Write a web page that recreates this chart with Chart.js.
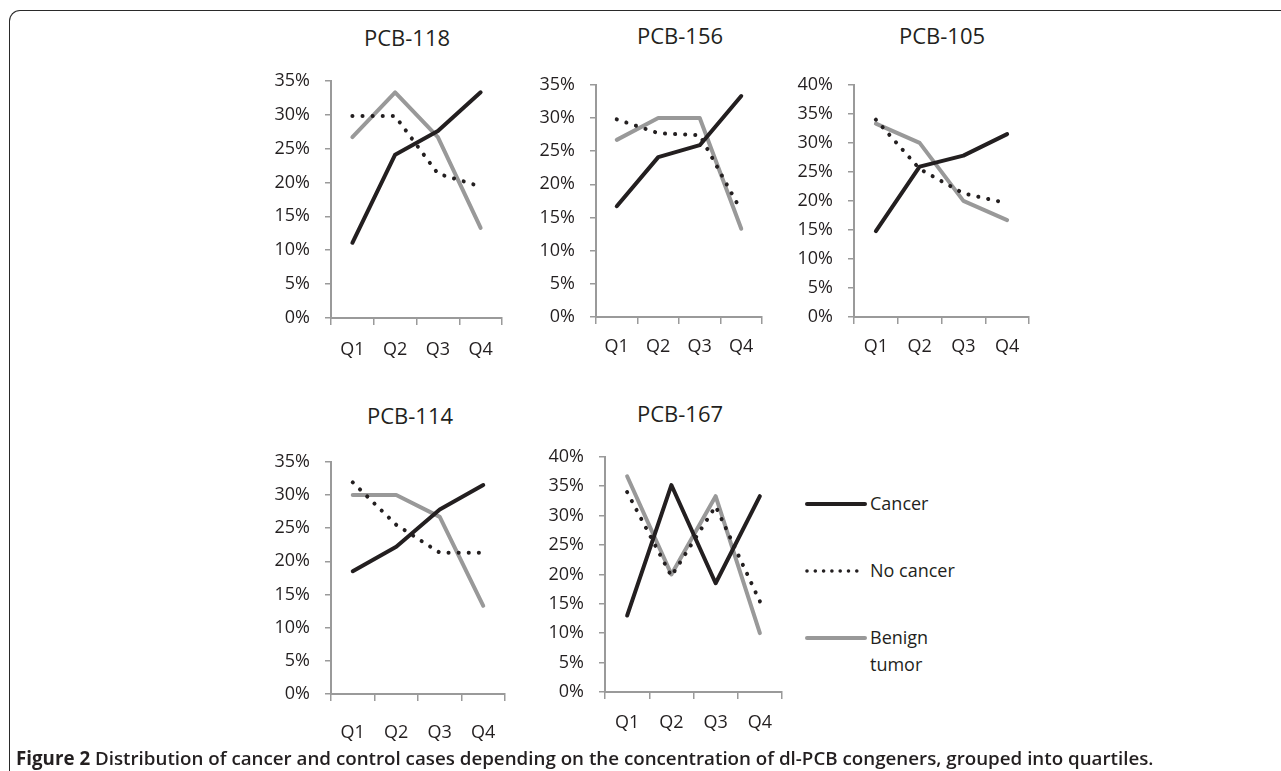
<!DOCTYPE html>
<html>
<head>
<meta charset="utf-8">
<script src="https://cdn.jsdelivr.net/npm/chart.js@4.4.1/dist/chart.umd.min.js"></script>
<style>
  html, body { margin: 0; padding: 0; background: #fff; }
  body { width: 1281px; height: 771px; position: relative; overflow: hidden; font-family: "Open Sans", sans-serif; color: #231f20; }
  #frame { position: absolute; left: 9px; top: 10px; width: 1400px; height: 900px; border-left: 1.5px solid #2a2a2a; border-top: 1.5px solid #2a2a2a; border-top-left-radius: 11px; }
  .cv { position: absolute; }
  .title { position: absolute; font-size: 22px; transform: translate(-50%, -50%); white-space: nowrap; }
  .leg { position: absolute; font-size: 18px; line-height: 27px; }
  .legline { position: absolute; }
  #caption { position: absolute; left: 16px; top: 757px; transform: translateY(-50%); white-space: nowrap; font-size: 19px; font-weight: 600; }
  #caption b { font-weight: 700; }
</style>
</head>
<body>
<div id="frame"></div>

<div class="title" style="left:407px; top:37px;">PCB-118</div>
<div class="title" style="left:680px; top:35px;">PCB-156</div>
<div class="title" style="left:942px; top:35px;">PCB-105</div>
<div class="title" style="left:410px; top:415px;">PCB-114</div>
<div class="title" style="left:680px; top:413px;">PCB-167</div>

<canvas class="cv" id="c1"></canvas>
<canvas class="cv" id="c2"></canvas>
<canvas class="cv" id="c3"></canvas>
<canvas class="cv" id="c4"></canvas>
<canvas class="cv" id="c5"></canvas>

<svg class="legline" style="left:800px; top:495px;" width="80" height="160">
  <line x1="7" y1="9" x2="65" y2="9" stroke="#231f20" stroke-width="4" stroke-linecap="round"/>
  <line x1="7" y1="76" x2="58" y2="76" stroke="#231f20" stroke-width="3.6" stroke-linecap="round" stroke-dasharray="0 8.3"/>
  <line x1="7" y1="143" x2="65" y2="143" stroke="#999999" stroke-width="4" stroke-linecap="round"/>
</svg>
<div class="leg" style="left:870px; top:490px;">Cancer</div>
<div class="leg" style="left:870px; top:557px;">No cancer</div>
<div class="leg" style="left:870px; top:624px;">Benign<br>tumor</div>

<div id="caption"><b>Figure 2</b> Distribution of cancer and control cases depending on the concentration of dl-PCB congeners, grouped into quartiles.</div>

<script>
const categories = ['Q1', 'Q2', 'Q3', 'Q4'];
const seriesNames = ['Cancer', 'No cancer', 'Benign tumor'];

const pcb118Cancer   = [11.1, 24.1, 27.6, 33.3];
const pcb118NoCancer = [29.8, 29.8, 21.3, 19.4];
const pcb118Benign   = [26.7, 33.3, 26.7, 13.3];

const pcb156Cancer   = [16.7, 24.1, 25.9, 33.3];
const pcb156NoCancer = [29.8, 27.7, 27.4, 16.0];
const pcb156Benign   = [26.7, 30.0, 30.0, 13.3];

const pcb105Cancer   = [14.8, 25.9, 27.8, 31.5];
const pcb105NoCancer = [34.0, 25.5, 21.3, 19.6];
const pcb105Benign   = [33.3, 30.0, 20.0, 16.7];

const pcb114Cancer   = [18.5, 22.2, 27.8, 31.5];
const pcb114NoCancer = [31.9, 25.5, 21.3, 21.3];
const pcb114Benign   = [30.0, 30.0, 26.7, 13.3];

const pcb167Cancer   = [13.0, 35.2, 18.5, 33.3];
const pcb167NoCancer = [34.0, 19.7, 31.6, 15.4];
const pcb167Benign   = [36.7, 20.0, 33.3, 10.0];

const yMax118 = 35, yMax156 = 35, yMax105 = 40, yMax114 = 35, yMax167 = 40;
const yStep = 5;

// plot-area boxes (left, right, top, bottom) and x-label padding
const boxes = {
  c1: { L: 331, R: 502, T: 69, B: 318, xp: 14 },
  c2: { L: 596, R: 762, T: 73, B: 317, xp: 12 },
  c3: { L: 854, R: 1029, T: 73, B: 317, xp: 12 },
  c4: { L: 331, R: 505, T: 450, B: 694, xp: 21 },
  c5: { L: 605, R: 782, T: 445, B: 692, xp: 13 }
};

const YW = 80, PT = 14, PR = 14, XH = 56;
const AXIS = '#9a9a9a';
const FONT = { family: '"Open Sans", sans-serif', size: 18 };

function makeChart(id, cancer, noCancer, benign, yMax) {
  const b = boxes[id];
  const cv = document.getElementById(id);
  const w = b.R - b.L + YW + PR;
  const h = b.B - b.T + PT + XH;
  cv.style.left = (b.L - YW) + 'px';
  cv.style.top = (b.T - PT) + 'px';
  cv.style.width = w + 'px';
  cv.style.height = h + 'px';
  cv.width = w; cv.height = h;
  new Chart(cv, {
    type: 'line',
    data: {
      labels: categories,
      datasets: [
        { label: seriesNames[0], data: cancer, borderColor: '#231f20', borderWidth: 4, pointRadius: 0, borderCapStyle: 'round', borderJoinStyle: 'round', tension: 0 },
        { label: seriesNames[1], data: noCancer, borderColor: '#231f20', borderWidth: 4, pointRadius: 0, borderCapStyle: 'round', borderDash: [0.1, 10], tension: 0 },
        { label: seriesNames[2], data: benign, borderColor: '#999999', borderWidth: 4, pointRadius: 0, borderCapStyle: 'round', borderJoinStyle: 'round', tension: 0 }
      ]
    },
    options: {
      responsive: false,
      animation: false,
      devicePixelRatio: window.devicePixelRatio || 1,
      layout: { padding: { top: PT, right: PR, left: 0, bottom: 0 } },
      plugins: { legend: { display: false }, title: { display: false }, tooltip: { enabled: false } },
      scales: {
        x: {
          type: 'category',
          offset: true,
          grid: { offset: true, drawOnChartArea: false, drawTicks: true, tickLength: 7, color: AXIS, lineWidth: 1.5 },
          border: { display: true, color: AXIS, width: 2 },
          ticks: { color: '#231f20', font: FONT, padding: b.xp, maxRotation: 0, autoSkip: false },
          afterFit: s => { s.height = XH; }
        },
        y: {
          min: 0, max: yMax,
          grid: { drawOnChartArea: false, drawTicks: true, tickLength: 6, color: AXIS, lineWidth: 1.5 },
          border: { display: true, color: AXIS, width: 2 },
          ticks: { stepSize: yStep, color: '#231f20', font: FONT, padding: 15, callback: v => v + '%' },
          afterFit: s => { s.width = YW; }
        }
      }
    }
  });
}

makeChart('c1', pcb118Cancer, pcb118NoCancer, pcb118Benign, yMax118);
makeChart('c2', pcb156Cancer, pcb156NoCancer, pcb156Benign, yMax156);
makeChart('c3', pcb105Cancer, pcb105NoCancer, pcb105Benign, yMax105);
makeChart('c4', pcb114Cancer, pcb114NoCancer, pcb114Benign, yMax114);
makeChart('c5', pcb167Cancer, pcb167NoCancer, pcb167Benign, yMax167);

// fit caption to the reference width
(function () {
  const cap = document.getElementById('caption');
  const target = 1138;
  let fs = 19;
  cap.style.fontSize = fs + 'px';
  const w = cap.getBoundingClientRect().width;
  if (w > 0) { fs = fs * target / w; cap.style.fontSize = fs.toFixed(2) + 'px'; }
})();
</script>
</body>
</html>
